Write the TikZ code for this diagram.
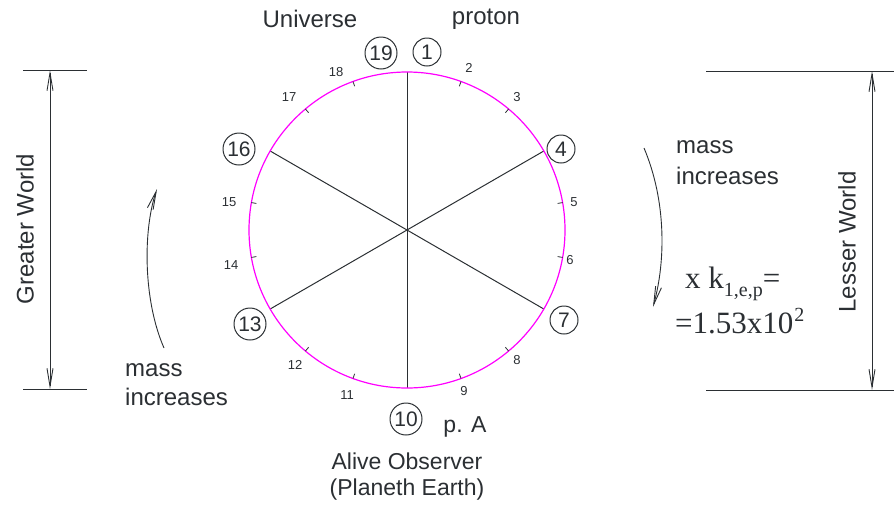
\documentclass[tikz,border=0pt]{standalone}
\usepackage{fontspec}
\setmainfont{Liberation Sans}
\newfontfamily\timesf{Liberation Serif}
\usetikzlibrary{arrows.meta,calc}
\definecolor{ink}{HTML}{2B2F33}
\definecolor{rim}{HTML}{FF00FF}
\begin{document}
\begin{tikzpicture}[x=1pt,y=-1pt,
  txt/.style={font=\fontsize{24}{27}\selectfont, text=ink, inner sep=0pt},
  txtb/.style={font=\fontsize{23}{27}\selectfont, text=ink, inner sep=0pt},
  ticklab/.style={font=\fontsize{13}{13}\selectfont, text=ink, inner sep=0pt},
  cnum/.style={circle, draw=ink, line width=1pt, font=\fontsize{21}{21}\selectfont, text=ink, inner sep=0pt, minimum size=28pt},
  cnumw/.style={cnum, minimum size=32pt},
  formula/.style={anchor=base west, inner sep=0pt, text=ink, font=\timesf\fontsize{31}{31}\selectfont},
  rline/.style={draw=ink, line width=1pt},
  barb/.style={draw=ink, line width=0.9pt, {Straight Barb[length=18pt,width=6pt]}-{Straight Barb[length=18pt,width=6pt]}},
  onebarb/.style={draw=ink, line width=0.9pt, -{Straight Barb[length=18pt,width=6pt]}},
  guide/.style={draw=ink, line width=0.9pt}]
\useasboundingbox (0,0) rectangle (894,504);

\coordinate (c) at (407,230);
\foreach \k in {1,...,18} {
  \path (c) ++({(\k-1)*20-90}:158) coordinate (p\k);
  \path (c) ++({(\k-1)*20-90}:153) coordinate (q\k);
}

% diameters
\draw[rline] (p1) -- (p10);
\draw[rline] (p16) -- (p7);
\draw[rline] (p4) -- (p13);

% circle
\draw[draw=rim, line width=1.2pt] (c) circle[radius=158];

% ticks
\foreach \k in {2,3,5,6,8,9,11,12,14,15,17,18} {
  \draw[draw=ink, line width=0.8pt] (p\k) -- (q\k);
}

% tick labels
\node[ticklab] (t2) at (469,68) {2};
\node[ticklab] (t3) at (517,97) {3};
\node[ticklab] (t5) at (574,202) {5};
\node[ticklab] (t6) at (570,260) {6};
\node[ticklab] (t8) at (517,360) {8};
\node[ticklab] (t9) at (464,391) {9};
\node[ticklab] (t11) at (347,395) {11};
\node[ticklab] (t12) at (295,365) {12};
\node[ticklab] (t14) at (231,265) {14};
\node[ticklab] (t15) at (229,202) {15};
\node[ticklab] (t17) at (289,97) {17};
\node[ticklab] (t18) at (336,72) {18};

% circled numbers
\node[cnum] (n1) at (427,52) {1};
\node[cnumw] (n19) at (381,53) {19};
\node[cnum] (n4) at (561,149) {4};
\node[cnum] (n7) at (564,320) {7};
\node[cnumw] (n16) at (239,149) {16};
\node[cnumw] (n13) at (250,324) {13};
\node[cnumw] (n10) at (406,419) {10};

% texts
\node[txt] (univ) at (310,19) {Universe};
\node[txt] (prot) at (486,19) {proton};
\node[txtb] (pa) at (465,427) {p. A};
\node[txtb] (alive) at (407,461) {Alive Observer};
\node[txtb] (earth) at (407,490) {(Planeth Earth)};
\node[txt, anchor=west] (ml1) at (125,370) {mass};
\node[txt, anchor=west] (ml2) at (125,397) {increases};
\node[txt, anchor=west] (mr1) at (676,147) {mass};
\node[txt, anchor=west] (mr2) at (676,176) {increases};
\node[txt, rotate=90] (gw) at (25,229) {Greater World};
\node[txt, rotate=90] (lw) at (847,242) {Lesser World};

% formula
\node[formula] (f1) at (685,288)
  {x k{\fontsize{20}{20}\selectfont\raisebox{-8pt}{1,e,p}}=};
\node[formula] (f2) at (675,333)
  {=1.53x10\kern1pt{\fontsize{20}{20}\selectfont\raisebox{12pt}{2}}};

% dimension lines left
\coordinate (glt) at (23,70);
\coordinate (grt) at (87,70);
\coordinate (glb) at (23,389);
\coordinate (grb) at (87,389);
\coordinate (gat) at (50,70);
\coordinate (gab) at (50,389);
\draw[guide] (glt) -- (grt);
\draw[guide] (glb) -- (grb);
\draw[barb] (gat) -- (gab);

% dimension lines right
\coordinate (llt) at (706,71);
\coordinate (lrt) at (894,71);
\coordinate (llb) at (706,390);
\coordinate (lrb) at (894,390);
\coordinate (lat) at (872,71);
\coordinate (lab) at (872,390);
\draw[guide] (llt) -- (lrt);
\draw[guide] (llb) -- (lrb);
\draw[barb] (lat) -- (lab);

% curved arrows
\coordinate (cl0) at (164,348);
\coordinate (cl1) at (157,189);
\draw[onebarb] (cl0) .. controls (143,300) and (143,230) .. (cl1);
\coordinate (cr0) at (644,148);
\coordinate (cr1) at (653,307);
\draw[onebarb] (cr0) .. controls (666,200) and (666,260) .. (cr1);

\end{tikzpicture}
\end{document}
